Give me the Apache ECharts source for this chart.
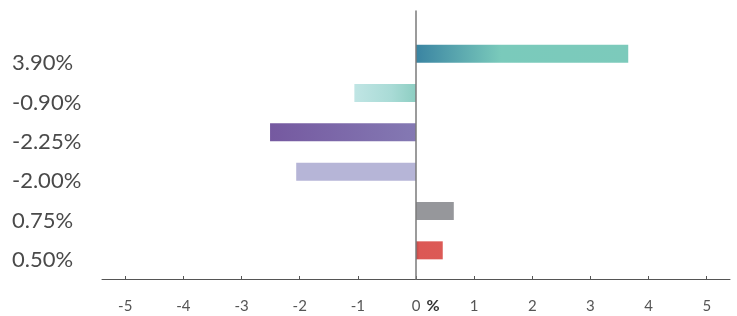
<!DOCTYPE html>
<html>
<head>
<meta charset="utf-8">
<script src="https://cdn.jsdelivr.net/npm/echarts@6/dist/echarts.min.js"></script>
<style>html,body{margin:0;padding:0;background:#fff}#c{width:737px;height:316px}</style>
</head>
<body>
<div id="c"></div>
<script>
const categories = ['3.90%', '-0.90%', '-2.25%', '-2.00%', '0.75%', '0.50%'];
const values = [3.65, -1.06, -2.51, -2.06, 0.65, 0.46];
const xTickValues = [-5, -4, -3, -2, -1, 0, 1, 2, 3, 4, 5];
const axisUnit = '%';

function grad(stops) {
  return new echarts.graphic.LinearGradient(0, 0, 1, 0, stops.map(s => ({offset: s[0], color: s[1]})));
}
const barStyles = [
  grad([[0, '#3a84a2'], [0.4, '#7acabb'], [1, '#7ccabb']]),
  grad([[0, '#c0e5e4'], [0.6, '#a9dbd6'], [1, '#8dcec2']]),
  grad([[0, '#7559a0'], [1, '#8479b3']]),
  '#b6b5d7',
  '#96979b',
  grad([[0, '#b94b49'], [0.12, '#dc5855'], [1, '#dc5a56']])
];

const chart = echarts.init(document.getElementById('c'), null, {renderer: 'canvas'});
const FONT = 'Lato';
chart.setOption({
  animation: false,
  grid: [
    {left: 102, right: 7, top: 11, bottom: 37, containLabel: false, outerBoundsMode: 'none'},
    {left: 102, right: 7, top: 34, bottom: 46, containLabel: false, outerBoundsMode: 'none'}
  ],
  xAxis: [
    {
      gridIndex: 0, type: 'value', min: -5.4, max: 5.4,
      axisLine: {show: true, onZero: false, lineStyle: {color: '#555', width: 1}},
      axisTick: {show: true, inside: true, length: 3, customValues: xTickValues, lineStyle: {color: '#555'}},
      axisLabel: {show: true, customValues: xTickValues, margin: 20, fontFamily: FONT, fontSize: 15, color: '#555'},
      splitLine: {show: false},
      name: axisUnit, nameLocation: 'middle', nameGap: 19, nameMoveOverlap: false,
      nameTextStyle: {fontFamily: FONT, fontSize: 16, fontWeight: 'bold', color: '#333', padding: [0, 0, 0, 34]}
    },
    {
      gridIndex: 1, type: 'value', min: -5.4, max: 5.4, show: false
    }
  ],
  yAxis: [
    {
      gridIndex: 0, type: 'value', min: 0, max: 1, z: 10,
      axisLine: {show: true, onZero: true, lineStyle: {color: '#7a7a7a', width: 1.5}},
      axisTick: {show: false}, axisLabel: {show: false}, splitLine: {show: false}
    },
    {
      gridIndex: 1, type: 'category', inverse: true, data: categories,
      axisLine: {show: false, onZero: false}, axisTick: {show: false}, splitLine: {show: false},
      axisLabel: {align: 'left', verticalAlign: 'top', lineHeight: 19, margin: 90, fontFamily: FONT, fontSize: 22, color: '#4a4a4a'}
    }
  ],
  series: [{
    type: 'bar', xAxisIndex: 1, yAxisIndex: 1, barWidth: 18,
    data: values.map((v, i) => ({value: v, itemStyle: {color: barStyles[i]}}))
  }]
});
</script>
</body>
</html>
